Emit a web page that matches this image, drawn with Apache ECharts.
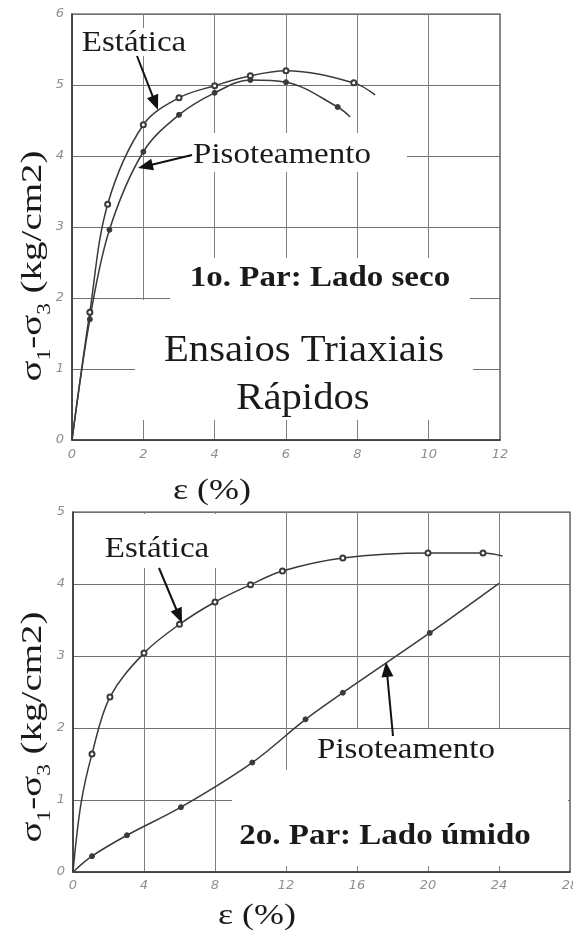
<!DOCTYPE html>
<html>
<head>
<meta charset="utf-8">
<script src="https://cdn.jsdelivr.net/npm/echarts@6/dist/echarts.min.js"></script>
<style>
  html, body { margin: 0; padding: 0; background: #fff; }
  #c { width: 573px; height: 936px; }
</style>
</head>
<body>
<div id="c"></div>
<script>
// 1o. par (lado seco): deformação axial ε (%) x tensão desvio σ1-σ3 (kg/cm2)
const secoEstaticaX = [0, 0.5, 1, 2, 3, 4, 5, 6, 7.9, 8.5];
const secoEstaticaY = [0, 1.8, 3.32, 4.44, 4.82, 4.99, 5.13, 5.2, 5.03, 4.86];
const secoPisoX = [0, 0.5, 1.05, 2, 3, 4, 5, 6, 7.45, 7.8];
const secoPisoY = [0, 1.7, 2.96, 4.06, 4.58, 4.89, 5.07, 5.04, 4.69, 4.55];

// 2o. par (lado úmido)
const umidoEstaticaX = [0, 0.45, 1.07, 2.08, 4, 6, 8, 10, 11.8, 15.2, 20, 23.1, 24.2];
const umidoEstaticaY = [0, 0.95, 1.64, 2.43, 3.04, 3.44, 3.75, 3.99, 4.18, 4.36, 4.43, 4.43, 4.39];
const umidoPisoX = [0, 1.07, 3.04, 6.08, 10.1, 13.1, 15.2, 20.1, 24];
const umidoPisoY = [0, 0.22, 0.51, 0.9, 1.52, 2.12, 2.49, 3.32, 4.01];

// axis ranges
const secoEixoX = { min: 0, max: 12, interval: 2 };
const secoEixoY = { min: 0, max: 6, interval: 1 };
const umidoEixoX = { min: 0, max: 28, interval: 4 };
const umidoEixoY = { min: 0, max: 5, interval: 1 };

const SERIF = '"Liberation Serif", "Times New Roman", serif';
const INK = '#1a1a1a';
const CURVE = '#3a3a3a';

// pairs the x/y lists; points listed in `semMarca` are drawn without a marker
function pontos(xs, ys, semMarca) {
  return xs.map((x, i) => {
    const p = { value: [x, ys[i]] };
    if (semMarca.includes(i)) p.symbol = 'none';
    return p;
  });
}

const tickLabel = {
  color: '#8f8f8f', fontStyle: 'italic', fontSize: 13,
  fontFamily: '"DejaVu Sans", sans-serif'
};

function eixoX(r, grid, margin) {
  return {
    type: 'value', gridIndex: grid, min: r.min, max: r.max, interval: r.interval,
    axisLine: { show: true, onZero: false, lineStyle: { color: '#333', width: 1.5 } },
    axisTick: { show: false },
    axisLabel: Object.assign({ margin: margin, showMaxLabel: true }, tickLabel),
    splitLine: { show: true, lineStyle: { color: '#808080', width: 1 } }
  };
}
function eixoY(r, grid) {
  return {
    type: 'value', gridIndex: grid, min: r.min, max: r.max, interval: r.interval,
    axisLine: { show: true, onZero: false, lineStyle: { color: '#333', width: 1.5 } },
    axisTick: { show: false },
    axisLabel: Object.assign({ margin: 8 }, tickLabel),
    splitLine: { show: true, lineStyle: { color: '#6f6f6f', width: 1 } }
  };
}

function curva(nome, xs, ys, semMarca, aberto, grid) {
  return {
    name: nome, type: 'line', xAxisIndex: grid, yAxisIndex: grid,
    data: pontos(xs, ys, semMarca),
    smooth: 0.35,
    symbol: aberto ? 'emptyCircle' : 'circle', symbolSize: 5,
    lineStyle: { color: CURVE, width: 1.5 },
    itemStyle: { color: CURVE, borderColor: CURVE, borderWidth: 1 },
    emphasis: { disabled: true }, silent: true, z: 2
  };
}

const chart = echarts.init(document.getElementById('c'), null, { renderer: 'canvas' });

const gridBase = { show: true, borderColor: '#444', borderWidth: 1.2,
  backgroundColor: 'transparent', containLabel: false, outerBoundsMode: 'none' };

chart.setOption({
  animation: false,
  backgroundColor: '#fff',
  grid: [
    Object.assign({ left: 72, top: 14, width: 428, height: 426 }, gridBase),
    Object.assign({ left: 73, top: 512, width: 497, height: 360 }, gridBase)
  ],
  xAxis: [eixoX(secoEixoX, 0, 8), eixoX(umidoEixoX, 1, 7)],
  yAxis: [eixoY(secoEixoY, 0), eixoY(umidoEixoY, 1)],
  series: [
    curva('Estática', secoEstaticaX, secoEstaticaY, [0, 9], true, 0),
    curva('Pisoteamento', secoPisoX, secoPisoY, [0, 9], false, 0),
    curva('Estática', umidoEstaticaX, umidoEstaticaY, [0, 1, 12], true, 1),
    curva('Pisoteamento', umidoPisoX, umidoPisoY, [0, 8], false, 1)
  ]
});

// ---- annotations: white label boxes, texts and arrows ----
function caixa(x1, y1, x2, y2) {
  return { type: 'rect', z: 1, silent: true,
    shape: { x: x1, y: y1, width: x2 - x1, height: y2 - y1 },
    style: { fill: '#fff' } };
}
function texto(t, x, y, size, bold, sx) {
  return { type: 'text', z: 5, silent: true, x: x, y: y, scaleX: sx || 1.1,
    style: { text: t, fill: INK, align: 'center', verticalAlign: 'middle',
      font: (bold ? 'bold ' : '') + size + 'px ' + SERIF } };
}
function seta(x0, y0, x1, y1) {
  const dx = x1 - x0, dy = y1 - y0, L = Math.hypot(dx, dy);
  const ux = dx / L, uy = dy / L, head = 15, half = 6;
  const bx = x1 - ux * head, by = y1 - uy * head;
  return [
    { type: 'line', z: 5, silent: true,
      shape: { x1: x0, y1: y0, x2: bx + ux * 2, y2: by + uy * 2 },
      style: { stroke: '#111', lineWidth: 2 } },
    { type: 'polygon', z: 5, silent: true,
      shape: { points: [[x1, y1], [bx - uy * half, by + ux * half], [bx + uy * half, by - ux * half]] },
      style: { fill: '#111' } }
  ];
}
function rotuloY(x, y) {
  return { type: 'text', z: 5, silent: true, x: x, y: y, rotation: Math.PI / 2, scaleX: 1.3,
    style: {
      text: '{a|σ}{s|1}{a|-σ}{s|3}{a| (kg/cm2)}',
      align: 'center', verticalAlign: 'middle', fill: INK,
      rich: {
        a: { fontSize: 30, fontFamily: SERIF, fill: INK, lineHeight: 42, verticalAlign: 'middle' },
        s: { fontSize: 18, fontFamily: SERIF, fill: INK, lineHeight: 42, verticalAlign: 'bottom' }
      }
    } };
}

const graficos = [
  // lado seco
  caixa(96, 28, 192, 56),
  caixa(190, 133, 407, 172),
  caixa(170, 258, 470, 300),
  caixa(135, 300, 473, 420),
  texto('Estática', 134, 43, 30),
  ...seta(137, 56, 158, 110),
  texto('Pisoteamento', 282, 155, 30),
  ...seta(192, 155, 138, 168),
  texto('1o. Par: Lado seco', 320, 278, 30, true),
  texto('Ensaios Triaxiais', 304, 351, 37),
  texto('Rápidos', 303, 399, 37),
  texto('ε (%)', 212, 491, 30, false, 1.2),
  rotuloY(33, 266),
  // lado úmido
  caixa(98, 514, 250, 568),
  caixa(300, 729, 568, 866),
  caixa(232, 770, 568, 866),
  texto('Estática', 157, 549, 30),
  ...seta(159, 568, 182, 623),
  texto('Pisoteamento', 406, 750, 30),
  ...seta(393, 736, 386, 662),
  texto('2o. Par: Lado úmido', 385, 836, 30, true),
  texto('ε (%)', 257, 916, 30, false, 1.2),
  rotuloY(33, 727)
];

chart.setOption({ graphic: graficos });
</script>
</body>
</html>
